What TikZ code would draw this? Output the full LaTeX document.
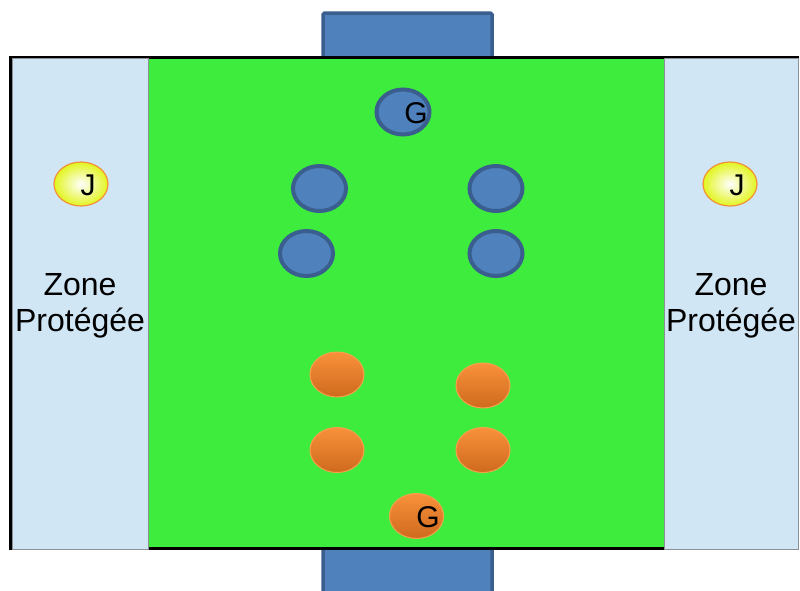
\documentclass[tikz,border=0pt]{standalone}
\usepackage{fontspec}
\setmainfont{Liberation Sans}
\usetikzlibrary{shapes.geometric}
\definecolor{pitch}{HTML}{3DEC3C}
\definecolor{zonefill}{HTML}{D0E6F4}
\definecolor{zoneedge}{HTML}{8A9096}
\definecolor{bluefill}{HTML}{4F81BD}
\definecolor{blueedge}{HTML}{3A5F8E}
\definecolor{orangetop}{HTML}{F9913A}
\definecolor{orangebot}{HTML}{CF6A1E}
\definecolor{orangeedge}{HTML}{F7A050}
\definecolor{jyellow}{HTML}{E2F51E}
\definecolor{jedge}{HTML}{F2913A}
\tikzset{
  goalbox/.style={draw=blueedge, fill=bluefill, line width=3.5pt, rounded corners=1.5pt},
  blueplayer/.style={ellipse, draw=blueedge, fill=bluefill, line width=4pt,
    minimum width=53pt, minimum height=45pt, inner sep=0pt},
  orangeplayer/.style={ellipse, draw=orangeedge, line width=1pt,
    top color=orangetop, bottom color=orangebot,
    minimum width=54pt, minimum height=45pt, inner sep=0pt},
  joker/.style={ellipse, draw=jedge, line width=1.2pt,
    inner color=white, outer color=jyellow,
    minimum width=54pt, minimum height=44pt, inner sep=0pt},
  zone/.style={draw=zoneedge, fill=zonefill, line width=1pt},
  tag/.style={font=\fontsize{30}{30}\selectfont, inner sep=0pt},
  zonetext/.style={font=\fontsize{32}{36}\selectfont, align=center, inner sep=0pt},
}
\begin{document}
\begin{tikzpicture}[x=1pt, y=-1pt]
  \useasboundingbox (0,0) rectangle (800,590);
  \begin{scope}
    \clip (0,0) rectangle (800,590);
    % goals
    \draw[goalbox] (323,13) rectangle (492,58);
    \draw[goalbox] (323,548) rectangle (492,600);
    % pitch with its black border
    \draw[fill=pitch, line width=3.5pt] (11,57.5) rectangle (797,548.5);
    % protected zones
    \draw[zone] (12,58) rectangle (148,549);
    \draw[zone] (664,58) rectangle (798,549);
  \end{scope}
  \node[zonetext] (zoneL) at (80,306) {Zone\\Protégée};
  \node[zonetext] (zoneR) at (731,306) {Zone\\Protégée};
  % jokers
  \node[joker] (jL) at (81,184) {};
  \node[tag] (jLt) at (88,185) {J};
  \node[joker] (jR) at (730,184) {};
  \node[tag] (jRt) at (737,185) {J};
  % blue team
  \node[blueplayer] (bG) at (403,112) {};
  \node[tag] (bGt) at (416,113) {G};
  \node[blueplayer] (b1) at (319.5,188.5) {};
  \node[blueplayer] (b2) at (496,188.5) {};
  \node[blueplayer] (b3) at (306.5,253.5) {};
  \node[blueplayer] (b4) at (496,253.5) {};
  % orange team
  \node[orangeplayer] (o1) at (337,374.5) {};
  \node[orangeplayer] (o2) at (483,385.5) {};
  \node[orangeplayer] (o3) at (337,450) {};
  \node[orangeplayer] (o4) at (483,450) {};
  \node[orangeplayer] (oG) at (416.5,516) {};
  \node[tag] (oGt) at (428,517) {G};
\end{tikzpicture}
\end{document}
